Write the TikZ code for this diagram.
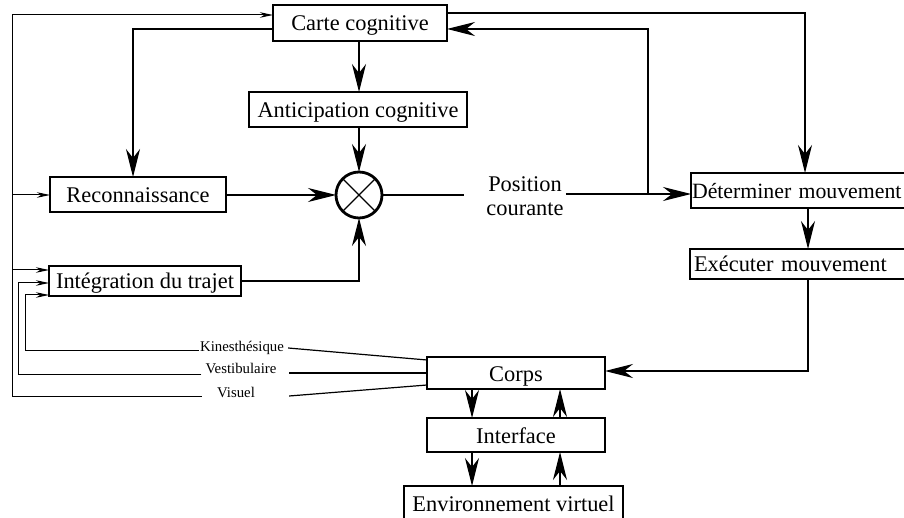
\documentclass[tikz,border=0pt]{standalone}
\usepackage{fontspec}
\setmainfont{Liberation Serif}
\usetikzlibrary{arrows.meta}
\begin{document}
\begin{tikzpicture}[x=1pt,y=-1pt,
  box/.style={draw, line width=2.8pt, inner sep=0pt, outer sep=0pt,
    font=\fontsize{22.4}{24}\selectfont, text height=16pt, text depth=0pt},
  conn/.style={line width=1.2pt, -{Stealth[length=28pt,width=14pt,inset=9pt]}},
  plain/.style={line width=1.2pt},
  feed/.style={line width=1pt, -{Stealth[length=13pt,width=5.5pt,inset=4pt]}},
  lab/.style={font=\fontsize{14.8}{16}\selectfont, inner sep=0pt},
]
\useasboundingbox (0,0) rectangle (904,518);
\clip (0,0) rectangle (904,518);

% boxes
\node[box, minimum width=174pt, minimum height=36pt] (carte) at (360,23) {Carte cognitive};
\node[box, minimum width=218pt, minimum height=35pt] (antic) at (358,109.5) {Anticipation cognitive};
\node[box, minimum width=176pt, minimum height=35pt] (recon) at (138,194.5) {Reconnaissance};
\node[box, minimum width=192pt, minimum height=30pt] (integ) at (145,281) {Intégration du trajet};
\node[draw, circle, line width=2.8pt, minimum size=46pt, inner sep=0pt, outer sep=0pt] (mult) at (359,195) {};
\draw[plain] (mult.45) -- (mult.225) (mult.135) -- (mult.-45);
\node[box, minimum height=35pt, text width=222pt, align=left, inner xsep=1pt,
  font=\fontsize{21.8}{24}\selectfont] (determ) at (803,190.5) {Déterminer mouvement};
\node[box, minimum height=30pt, text width=218pt, align=left, inner xsep=4pt] (exec) at (803,264) {Exécuter mouvement};
\node[box, minimum width=178pt, minimum height=32pt] (corps) at (516,373) {Corps};
\node[box, minimum width=178pt, minimum height=34pt] (interf) at (516,435) {Interface};
\node[box, minimum width=219pt, minimum height=34pt] (env) at (513.5,503) {Environnement virtuel};

% labels
\node[lab] (kin) at (242,348) {Kinesthésique};
\node[lab] (vest) at (241,368) {Vestibulaire};
\node[lab] (vis) at (236,392) {Visuel};
\node[font=\fontsize{22.4}{24}\selectfont, align=center, inner sep=0pt] (pos) at (525,196) {Position\\courante};

% sensory feeds
\draw[plain] (corps.west |- 0,360) -- ([xshift=4pt]kin.east);
\draw[feed] ([xshift=-1pt]kin.west |- 0,350) -- (25,350) -- (25,295) -- (integ.west |- 0,295);
\draw[plain] (corps.west) -- ([xshift=12pt]vest.east |- corps.west);
\draw[feed] ([xshift=-4pt]vest.west |- 0,374) -- (18,374) -- (18,283) -- (integ.west |- 0,283);
\draw[plain] (corps.west |- 0,385) -- ([xshift=34pt]vis.east |- 0,396);
\draw[feed] ([xshift=-15pt]vis.west |- 0,396) -- (12,396) -- (12,15) -- (carte.west |- 0,15);
\draw[feed] (12,195) -- (recon.west |- 0,195);
\draw[feed] (12,270) -- (integ.west |- 0,270);

% main connectors
\draw[conn] (carte.west |- 0,29) -- (133,29) -- (133,0 |- recon.north);
\draw[conn] (mult.north |- carte.south) -- (mult.north |- antic.north);
\draw[conn] (mult.north |- antic.south) -- (mult.north);
\draw[conn] (recon.east |- mult.west) -- (mult.west);
\draw[conn] (integ.east) -- (mult.south |- integ.east) -- (mult.south);
\draw[plain] (mult.east) -- ([xshift=-22pt]pos.west |- mult.east);
\draw[conn] ([xshift=2pt]pos.east |- 0,194) -- (determ.west |- 0,194);
\draw[conn] (648,194) -- (648,29) -- (carte.east |- 0,29);
\draw[conn] (carte.east |- 0,13) -- (805,13) -- (805,0 |- determ.north);
\draw[conn] (808,0 |- determ.south) -- (808,0 |- exec.north);
\draw[conn] (808,0 |- exec.south) -- (808,371) -- (corps.east |- 0,371);
\draw[conn] (472,0 |- corps.south) -- (472,0 |- interf.north);
\draw[conn] (560,0 |- interf.north) -- (560,0 |- corps.south);
\draw[conn] (472,0 |- interf.south) -- (472,0 |- env.north);
\draw[conn] (560,0 |- env.north) -- (560,0 |- interf.south);
\end{tikzpicture}
\end{document}
